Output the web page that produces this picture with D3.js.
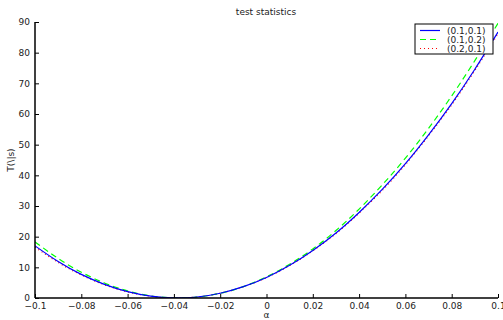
<!DOCTYPE html>
<html>
<head>
<meta charset="utf-8">
<script src="https://cdn.jsdelivr.net/npm/d3@7"></script>
<style>
  body { margin: 0; background: #fff; }
  svg { display: block; font-family: "DejaVu Sans", sans-serif; }
</style>
</head>
<body>
<div id="chart"></div>
<script>
// values, one per 0.01 step of alpha
var alphas = [-0.10, -0.09, -0.08, -0.07, -0.06, -0.05, -0.04, -0.03, -0.02, -0.01, 0,
  0.01, 0.02, 0.03, 0.04, 0.05, 0.06, 0.07, 0.08, 0.09, 0.10];
var t11 = [17.0, 11.9, 7.7, 4.45, 2.06, 0.6, 0.02, 0.33, 1.56, 3.69, 6.7,
  10.65, 15.5, 21.2, 27.9, 35.4, 43.8, 53.2, 63.4, 74.6, 86.7];
var t12 = [18.3, 12.9, 8.4, 4.9, 2.3, 0.7, 0.03, 0.3, 1.54, 3.73, 6.9,
  11.0, 16.0, 22.0, 29.0, 36.9, 45.6, 55.3, 65.9, 77.4, 89.6];
var t21 = [16.6, 11.6, 7.5, 4.3, 1.98, 0.56, 0.02, 0.33, 1.55, 3.66, 6.65,
  10.55, 15.4, 21.0, 27.7, 35.1, 43.5, 52.9, 63.0, 74.2, 86.2];
var seriesNames = ['(0.1,0.1)', '(0.1,0.2)', '(0.2,0.1)'];
var xTicks = [-0.1, -0.08, -0.06, -0.04, -0.02, 0, 0.02, 0.04, 0.06, 0.08, 0.1];
var xTickLabels = ['\u22120.1', '\u22120.08', '\u22120.06', '\u22120.04', '\u22120.02', '0', '0.02', '0.04', '0.06', '0.08', '0.1'];
var yTicks = [0, 10, 20, 30, 40, 50, 60, 70, 80, 90];

var W = 503, H = 320;
var plotL = 35, plotR = 498, plotT = 22, plotB = 298;
var FONT = '9px';

var series = [
  { name: seriesNames[0], values: t11, color: '#0000ff', dash: null },
  { name: seriesNames[1], values: t12, color: '#00ff00', dash: '6,4' },
  { name: seriesNames[2], values: t21, color: '#ff0000', dash: '1,3' }
];

var svg = d3.select('#chart').append('svg')
  .attr('width', W)
  .attr('height', H);

var x = d3.scaleLinear().domain([-0.1, 0.1]).range([plotL, plotR]);
var y = d3.scaleLinear().domain([0, 90]).range([plotB, plotT]);

svg.append('clipPath')
  .attr('id', 'plotClip')
  .append('rect')
    .attr('x', plotL)
    .attr('y', plotT)
    .attr('width', plotR - plotL)
    .attr('height', plotB - plotT);

var line = d3.line()
  .x(function(d, i) { return x(alphas[i]); })
  .y(function(d) { return y(d); })
  .curve(d3.curveNatural);

// red first, then green, blue on top as in the reference
[series[2], series[1], series[0]].forEach(function(s) {
  svg.append('path')
    .datum(s.values)
    .attr('clip-path', 'url(#plotClip)')
    .attr('fill', 'none')
    .attr('stroke', s.color)
    .attr('stroke-width', 1.2)
    .attr('stroke-dasharray', s.dash)
    .attr('d', line);
});

var xAxis = d3.axisBottom(x)
  .tickValues(xTicks)
  .tickSize(-4)
  .tickPadding(5)
  .tickFormat(function(d, i) { return xTickLabels[i]; });

var yAxis = d3.axisLeft(y)
  .tickValues(yTicks)
  .tickSize(-4)
  .tickPadding(5);

var gx = svg.append('g')
  .attr('transform', 'translate(0,' + plotB + ')')
  .call(xAxis);

var gy = svg.append('g')
  .attr('transform', 'translate(' + plotL + ',0)')
  .call(yAxis);

gx.select('.domain').attr('d', 'M' + plotL + ',0H' + plotR);
gy.select('.domain').attr('d', 'M0,' + plotB + 'V' + plotT);

[gx, gy].forEach(function(g) {
  g.select('.domain')
    .attr('stroke', '#000')
    .attr('stroke-width', 1.5);
  g.selectAll('.tick line').attr('stroke', '#000');
  g.selectAll('.tick text')
    .attr('fill', '#222')
    .style('font-size', FONT)
    .style('font-family', '"DejaVu Sans", sans-serif');
});

svg.append('text')
  .attr('x', 266)
  .attr('y', 15)
  .attr('text-anchor', 'middle')
  .attr('fill', '#222')
  .style('font-size', FONT)
  .text('test statistics');

svg.append('text')
  .attr('x', (plotL + plotR) / 2)
  .attr('y', 318)
  .attr('text-anchor', 'middle')
  .attr('fill', '#222')
  .style('font-size', FONT)
  .text('\u03b1');

svg.append('text')
  .attr('transform', 'translate(14,' + ((plotT + plotB) / 2) + ') rotate(-90)')
  .attr('text-anchor', 'middle')
  .attr('fill', '#222')
  .style('font-size', FONT)
  .text('T(\\|s)');

// legend
var legend = svg.append('g')
  .attr('transform', 'translate(415,24)');

legend.append('rect')
  .attr('width', 78)
  .attr('height', 30)
  .attr('fill', '#fff')
  .attr('stroke', '#000')
  .attr('stroke-width', 1);

series.forEach(function(s, i) {
  var ly = 6.5 + i * 9;
  legend.append('line')
    .attr('x1', 5)
    .attr('x2', 25)
    .attr('y1', ly)
    .attr('y2', ly)
    .attr('stroke', s.color)
    .attr('stroke-width', 1.2)
    .attr('stroke-dasharray', s.dash);
  legend.append('text')
    .attr('x', 32)
    .attr('y', ly + 3)
    .attr('fill', '#222')
    .style('font-size', FONT)
    .text(s.name);
});
</script>
</body>
</html>
